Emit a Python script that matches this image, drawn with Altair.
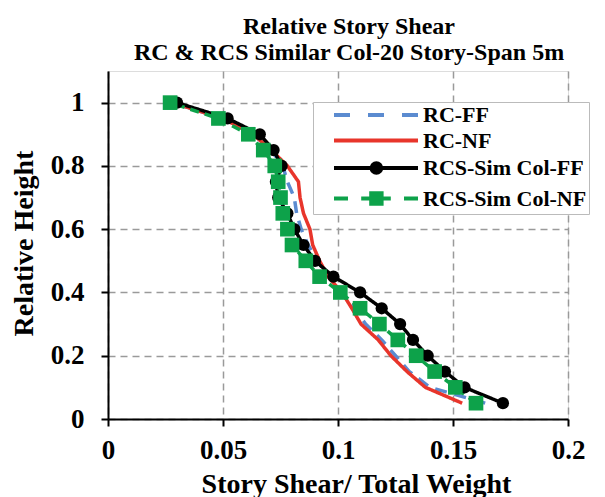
import altair as alt
import pandas as pd

series_names = ["RC-FF", "RC-NF", "RCS-Sim Col-FF", "RCS-Sim Col-NF"]
series_colors = ["#5B8BD0", "#E8352B", "#000000", "#0DA24A"]
series_dash = [[12, 8], [1, 0], [1, 0], [9, 6]]

heights = [1.0, 0.95, 0.9, 0.85, 0.8, 0.75, 0.7, 0.65, 0.6, 0.55,
           0.5, 0.45, 0.4, 0.35, 0.3, 0.25, 0.2, 0.15, 0.1, 0.05]
rc_ff = [0.028, 0.050, 0.063, 0.071, 0.076, 0.078, 0.081, 0.082, 0.084, 0.087,
         0.091, 0.096, 0.101, 0.107, 0.112, 0.119, 0.125, 0.131, 0.140, 0.164]
rc_nf = [0.028, 0.050, 0.063, 0.071, 0.078, 0.0828, 0.0835, 0.085, 0.0878, 0.089,
         0.092, 0.0957, 0.1017, 0.106, 0.110, 0.1175, 0.123, 0.130, 0.138, 0.154]
rcs_ff = [0.030, 0.052, 0.066, 0.072, 0.0755, 0.073, 0.074, 0.078, 0.081, 0.085,
          0.090, 0.098, 0.1096, 0.119, 0.127, 0.1326, 0.139, 0.1465, 0.155, 0.1717]
rcs_nf = [0.027, 0.048, 0.061, 0.0675, 0.0725, 0.074, 0.075, 0.076, 0.078, 0.080,
          0.086, 0.092, 0.101, 0.1096, 0.118, 0.126, 0.134, 0.142, 0.151, 0.160]

x_ticks = [0, 0.05, 0.1, 0.15, 0.2]
y_ticks = [0, 0.2, 0.4, 0.6, 0.8, 1]

# legend symbols: line sample (+ marker), in symbol units
legend_paths = [
    "M0,0H2M4.25,0H6.25M8.5,0H10.5",
    "M0,0H10.5",
    "M0,0H10.5M4.7,0A0.6,0.6 0 1,0 5.9,0A0.6,0.6 0 1,0 4.7,0Z",
    "M0,0H1.75M3.4,0H7.1M8.75,0H10.5M4.65,-0.65H5.95V0.65H4.65Z",
]

rows = []
for name, vals in zip(series_names, [rc_ff, rc_nf, rcs_ff, rcs_nf]):
    for h, v in zip(heights, vals):
        rows.append({"series": name, "h": h, "x": v})
df = pd.DataFrame(rows)

FONT = "Liberation Serif"

x_axis = alt.Axis(
    values=x_ticks, format="~g", grid=True, gridDash=[7, 5], gridColor="#9A9A9A",
    gridWidth=1.5, tickSize=7, tickWidth=2, tickColor="black", domainColor="black",
    domainWidth=2, labelFont=FONT, labelFontSize=27, labelFontWeight="bold",
    labelColor="black", labelPadding=11, labelFlush=False,
    title="Story Shear/ Total Weight", titleFont=FONT, titleFontSize=28,
    titleFontWeight="bold", titleColor="black", titleX=248, titleY=73,
    titleBaseline="alphabetic", titleAlign="center",
)
y_axis = alt.Axis(
    values=y_ticks, format="~g", grid=True, gridDash=[7, 5], gridColor="#9A9A9A",
    gridWidth=1.5, tickSize=7, tickWidth=2, tickColor="black", domainColor="black",
    domainWidth=2, labelFont=FONT, labelFontSize=27, labelFontWeight="bold",
    labelColor="black", labelPadding=17, labelFlush=False,
    title="Relative Height", titleFont=FONT, titleFontSize=28,
    titleFontWeight="bold", titleColor="black", titleX=-84, titleY=172,
    titleAngle=270, titleBaseline="middle", titleAlign="center",
)

x_enc = alt.X("x:Q", scale=alt.Scale(domain=[0, 0.2], nice=False, zero=False), axis=x_axis)
y_enc = alt.Y("h:Q", scale=alt.Scale(domain=[0, 1.1], nice=False), axis=y_axis)

# scales for drawing (domain orders differ so their hidden legends don't merge
# with the visible legend)
rev = [3, 2, 1, 0]
alt_order = [1, 0, 3, 2]
color_scale = alt.Scale(domain=[series_names[i] for i in rev],
                        range=[series_colors[i] for i in rev])
dash_scale = alt.Scale(domain=[series_names[i] for i in alt_order],
                       range=[series_dash[i] for i in alt_order])
# scales for the legend
leg_color_scale = alt.Scale(domain=series_names, range=series_colors)
shape_scale = alt.Scale(domain=series_names, range=legend_paths)

leg = alt.Legend(
    title=None, orient="none", legendX=205, legendY=31, padding=2,
    fillColor="white", strokeColor="#BBBBBB", symbolSize=256,
    symbolStrokeWidth=4, symbolOffset=8, symbolOpacity=1, labelOffset=78,
    rowPadding=3.5, labelFont=FONT, labelFontSize=22, labelFontWeight="bold",
    labelColor="black", labelLimit=400,
)

base = alt.Chart(df)

lines = base.mark_line(strokeWidth=3.5).encode(
    x=x_enc, y=y_enc,
    color=alt.Color("series:N", scale=color_scale, legend=None),
    strokeDash=alt.StrokeDash("series:N", scale=dash_scale, legend=None),
    order=alt.Order("h:Q"),
)

circles = base.transform_filter(alt.datum.series == "RCS-Sim Col-FF").mark_circle(
    size=150, opacity=1
).encode(
    x=x_enc, y=y_enc,
    color=alt.Color("series:N", scale=color_scale, legend=None),
)

squares = base.transform_filter(alt.datum.series == "RCS-Sim Col-NF").mark_square(
    size=215, opacity=1
).encode(
    x=x_enc, y=y_enc,
    color=alt.Color("series:N", scale=color_scale, legend=None),
)

legend_layer = base.transform_filter("datum.h < 0").mark_point(size=0, opacity=1).encode(
    x=x_enc, y=y_enc,
    fill=alt.Fill("series:N", scale=leg_color_scale, legend=leg),
    stroke=alt.Stroke("series:N", scale=leg_color_scale, legend=leg),
    shape=alt.Shape("series:N", scale=shape_scale, legend=leg),
)

chart = alt.layer(lines, circles, squares, legend_layer).properties(
    width=460, height=348,
    padding={"left": 100, "top": 63, "right": 29, "bottom": 78},
    autosize=alt.AutoSizeParams(type="none"),
    title=alt.Title(
        text=["Relative Story Shear", "RC & RCS Similar Col-20 Story-Span 5m"],
        font=FONT, fontSize=24, fontWeight="bold", color="black",
        anchor="middle", dx=11, offset=6, lineHeight=26,
    ),
).configure_view(stroke="black", strokeWidth=2).configure(background="white")

chart.save("out.html", embed_options={"renderer": "svg", "actions": False})
